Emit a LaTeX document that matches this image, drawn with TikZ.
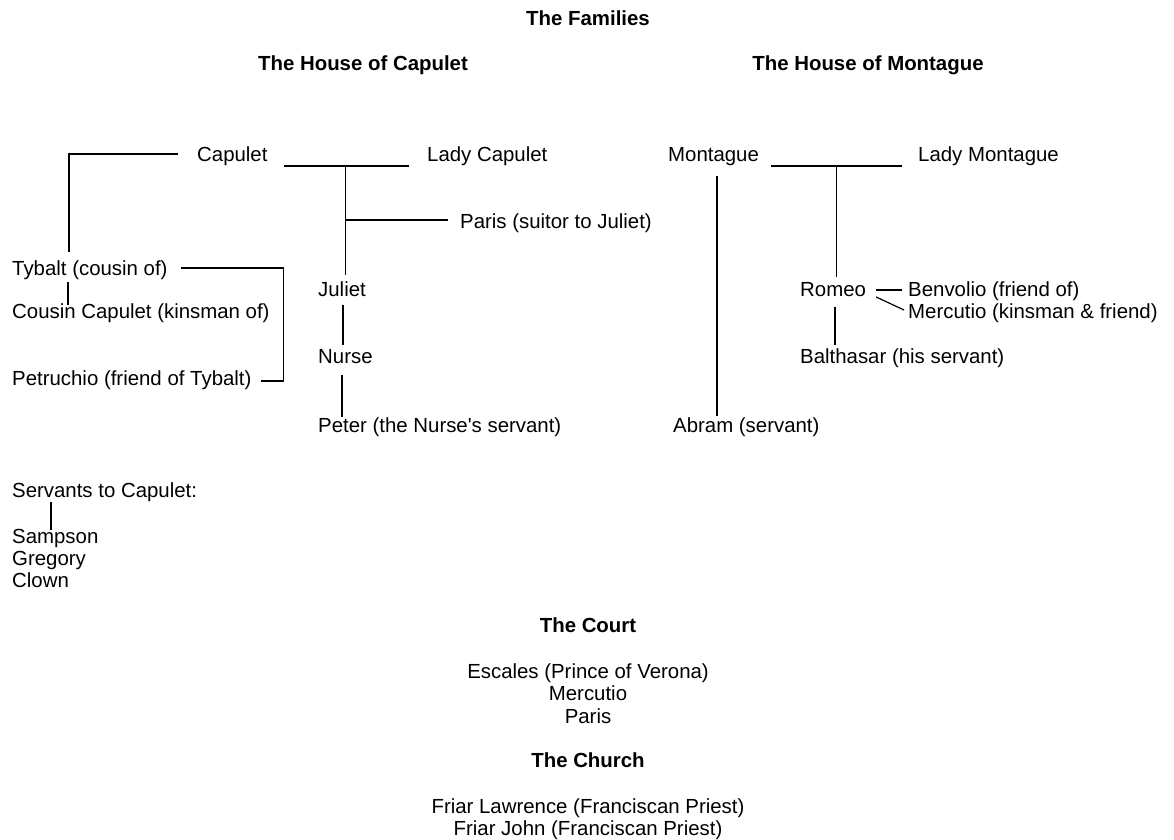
\documentclass[tikz,border=0pt]{standalone}
\usepackage{fontspec}
\setmainfont{Liberation Sans}
\usetikzlibrary{positioning,calc}

\begin{document}
\begin{tikzpicture}[
                x=1pt, y=-1pt,
                person/.style={anchor=west, inner sep=0pt, text height=1em, text depth=0pt, font=\fontsize{20.4}{24.5}\selectfont},
                middle/.style={person, anchor=center},
                heading/.style={middle, font=\fontsize{20.4}{24.5}\selectfont\bfseries},
                link/.style={line width=1.2pt}
            ]
            \useasboundingbox (0,0) rectangle (1174,839);

            % headings
            \node[heading] (families) at (588,20) {The Families};
            \node[heading] (hcapulet) at (363,65) {The House of Capulet};
            \node[heading] (hmontague) at (868,65) {The House of Montague};

            % Capulet side
            \node[person] (capulet) at (197,156) {Capulet};
            \node[person] (ladycap) at (427,156) {Lady Capulet};
            \node[person] (paris) at (460,223) {Paris (suitor to Juliet)};
            \node[person] (tybalt) at (12,270) {Tybalt (cousin of)};
            \node[person] (cousin) at (12,313) {Cousin Capulet (kinsman of)};
            \node[person] (petruchio) at (12,380) {Petruchio (friend of Tybalt)};
            \node[person] (juliet) at (318,291) {Juliet};
            \node[person] (nurse) at (318,358) {Nurse};
            \node[person] (peter) at (318,427) {Peter (the Nurse\textquotesingle s servant)};

            % Montague side
            \node[person] (montague) at (668,156) {Montague};
            \node[person] (ladymon) at (918,156) {Lady Montague};
            \node[person] (romeo) at (800,291) {Romeo};
            \node[person] (benvolio) at (908,291) {Benvolio (friend of)};
            \node[person] (mercutio) at (908,313) {Mercutio (kinsman \& friend)};
            \node[person] (balthasar) at (800,358) {Balthasar (his servant)};
            \node[person] (abram) at (673,427) {Abram (servant)};

            % servants
            \node[person] (servants) at (12,492) {Servants to Capulet:};
            \node[person] (sampson) at (12,538) {Sampson};
            \node[person] (gregory) at (12,560) {Gregory};
            \node[person] (clown) at (12,582) {Clown};

            % court and church
            \node[heading] (court) at (588,627) {The Court};
            \node[middle] (escales) at (588,673) {Escales (Prince of Verona)};
            \node[middle] (mercutiob) at (588,695) {Mercutio};
            \node[middle] (parisb) at (588,718) {Paris};
            \node[heading] (church) at (588,762) {The Church};
            \node[middle] (lawrence) at (588,808) {Friar Lawrence (Franciscan Priest)};
            \node[middle] (john) at (588,830) {Friar John (Franciscan Priest)};

            % Capulet lines
            \draw[link] ($(capulet.west)+(-19,-2)$) -| ($(tybalt.west)+(57,-18)$);
            \draw[link] ($(tybalt.west)+(56,12)$) -- ($(cousin.west)+(56,-8)$);
            \draw[link] ($(tybalt.east)+(13,-2)$) -| ($(petruchio.east)+(32,1)$) -- ($(petruchio.east)+(9,1)$);
            \draw[link] ($(capulet.east)+(16,10)$) -- coordinate[pos=0.49] (capwed) ($(ladycap.west)+(-18,10)$);
            \draw[link] (capwed) -- ($(capwed |- juliet.west)+(0,-16)$);
            \draw[link] ($(paris.west)+(-12,-3)$) -- ++(-103,0);
            \draw[link] ($(juliet.west)+(25,14)$) -- ($(nurse.west)+(25,-13)$);
            \draw[link] ($(nurse.west)+(24,17)$) -- ($(peter.west)+(24,-10)$);

            % Montague lines
            \draw[link] ($(montague.east)+(12,10)$) -- coordinate[pos=0.5] (monwed) ($(ladymon.west)+(-16,10)$);
            \draw[link] (monwed) -- ($(monwed |- romeo.west)+(0,-14)$);
            \draw[link] ($(montague.west)+(49,20)$) -- ($(abram.west)+(44,-11)$);
            \draw[link] ($(romeo.east)+(10,-1)$) -- ($(benvolio.west)+(-6,-1)$);
            \draw[link] ($(romeo.east)+(10,6)$) -- ($(mercutio.west)+(-4,-3)$);
            \draw[link] ($(romeo.west)+(35,16)$) -- ($(balthasar.west)+(35,-13)$);

            \draw[link] ($(servants.west)+(39,10)$) -- ($(sampson.west)+(39,-8)$);

        \end{tikzpicture}
\end{document}
